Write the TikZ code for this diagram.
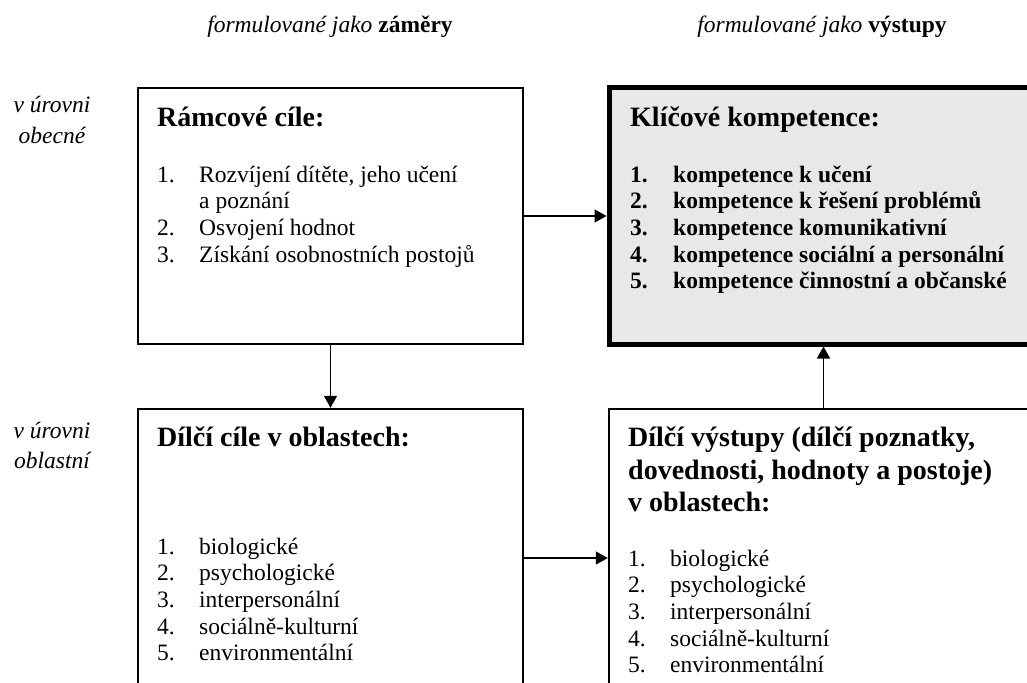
\documentclass[tikz,border=0pt]{standalone}
\usepackage{fontspec}
\setmainfont{Liberation Serif}
\usetikzlibrary{arrows.meta}
\definecolor{boxgray}{RGB}{232,232,232}
\tikzset{
  box/.style={draw, line width=2.4pt, rectangle, inner sep=0pt},
  keybox/.style={box, line width=5pt, fill=boxgray},
  conn/.style={line width=1.6pt, -{Triangle[length=12pt,width=13pt]}},
  txt/.style={anchor=base west, inner sep=0pt, font=\fontsize{23.5}{26.7}\selectfont},
  ttl/.style={anchor=base west, inner sep=0pt, font=\fontsize{28}{33}\selectfont\bfseries},
  lbl/.style={anchor=base, inner sep=0pt, font=\fontsize{23.5}{30}\selectfont\itshape},
  hdr/.style={anchor=base, inner sep=0pt, font=\fontsize{23.5}{30}\selectfont},
}
\newcommand{\nm}[1]{\makebox[42pt][l]{#1}}
\begin{document}
\begin{tikzpicture}[x=1pt,y=-1pt]
\useasboundingbox (0,0) rectangle (1027,682);
\clip (0,0) rectangle (1027,682);

% headers
\node[hdr] (h1) at (330,33) {\textit{formulované jako} \textbf{záměry}};
\node[hdr] (h2) at (822,33) {\textit{formulované jako} \textbf{výstupy}};

% side labels
\node[lbl] (l1a) at (52,113) {v úrovni};
\node[lbl] (l1b) at (52,143) {obecné};
\node[lbl] (l2a) at (52,438) {v úrovni};
\node[lbl] (l2b) at (52,468) {oblastní};

% boxes
\node[box, minimum width=385pt, minimum height=256pt] (rc) at (330.5,216) {};
\node[keybox, minimum width=429pt, minimum height=256pt] (kk) at (823.5,216) {};
\node[box, minimum width=385pt, minimum height=298pt] (dc) at (330.5,558) {};
\node[box, minimum width=429pt, minimum height=298pt] (dv) at (823.5,558) {};

% connectors
\draw[conn] (rc.east) -- (kk.west);
\draw[conn] (rc.south) -- (dc.north);
\draw[conn] (dc.east) -- (dv.west);
\draw[conn] (dv.north) -- (kk.south);

% top-left content
\node[ttl] (rct) at (157,126) {Rámcové cíle:};
\node[txt] (rcl) at (157,182) {\begin{tabular}[t]{@{}l@{}l@{}}
\nm{1.} & Rozvíjení dítěte, jeho učení\\
 & a poznání\\
\nm{2.} & Osvojení hodnot\\
\nm{3.} & Získání osobnostních postojů
\end{tabular}};

% top-right content
\node[ttl] (kkt) at (630,126) {Klíčové kompetence:};
\node[txt] (kkl) at (630,182) {\bfseries\begin{tabular}[t]{@{}l@{}l@{}}
\makebox[43pt][l]{1.} & kompetence k učení\\
\makebox[43pt][l]{2.} & kompetence k řešení problémů\\
\makebox[43pt][l]{3.} & kompetence komunikativní\\
\makebox[43pt][l]{4.} & kompetence sociální a personální\\
\makebox[43pt][l]{5.} & kompetence činnostní a občanské
\end{tabular}};

% bottom-left content
\node[ttl] (dct) at (157,446) {Dílčí cíle v oblastech:};
\node[txt] (dcl) at (157,554) {\begin{tabular}[t]{@{}l@{}l@{}}
\nm{1.} & biologické\\
\nm{2.} & psychologické\\
\nm{3.} & interpersonální\\
\nm{4.} & sociálně-kulturní\\
\nm{5.} & environmentální
\end{tabular}};

% bottom-right content
\node[ttl] (dvt1) at (628,446) {Dílčí výstupy (dílčí poznatky,};
\node[ttl] (dvt2) at (628,479) {dovednosti, hodnoty a postoje)};
\node[ttl] (dvt3) at (628,511) {v oblastech:};
\node[txt] (dvl) at (628,566) {\begin{tabular}[t]{@{}l@{}l@{}}
\nm{1.} & biologické\\
\nm{2.} & psychologické\\
\nm{3.} & interpersonální\\
\nm{4.} & sociálně-kulturní\\
\nm{5.} & environmentální
\end{tabular}};
\end{tikzpicture}
\end{document}
